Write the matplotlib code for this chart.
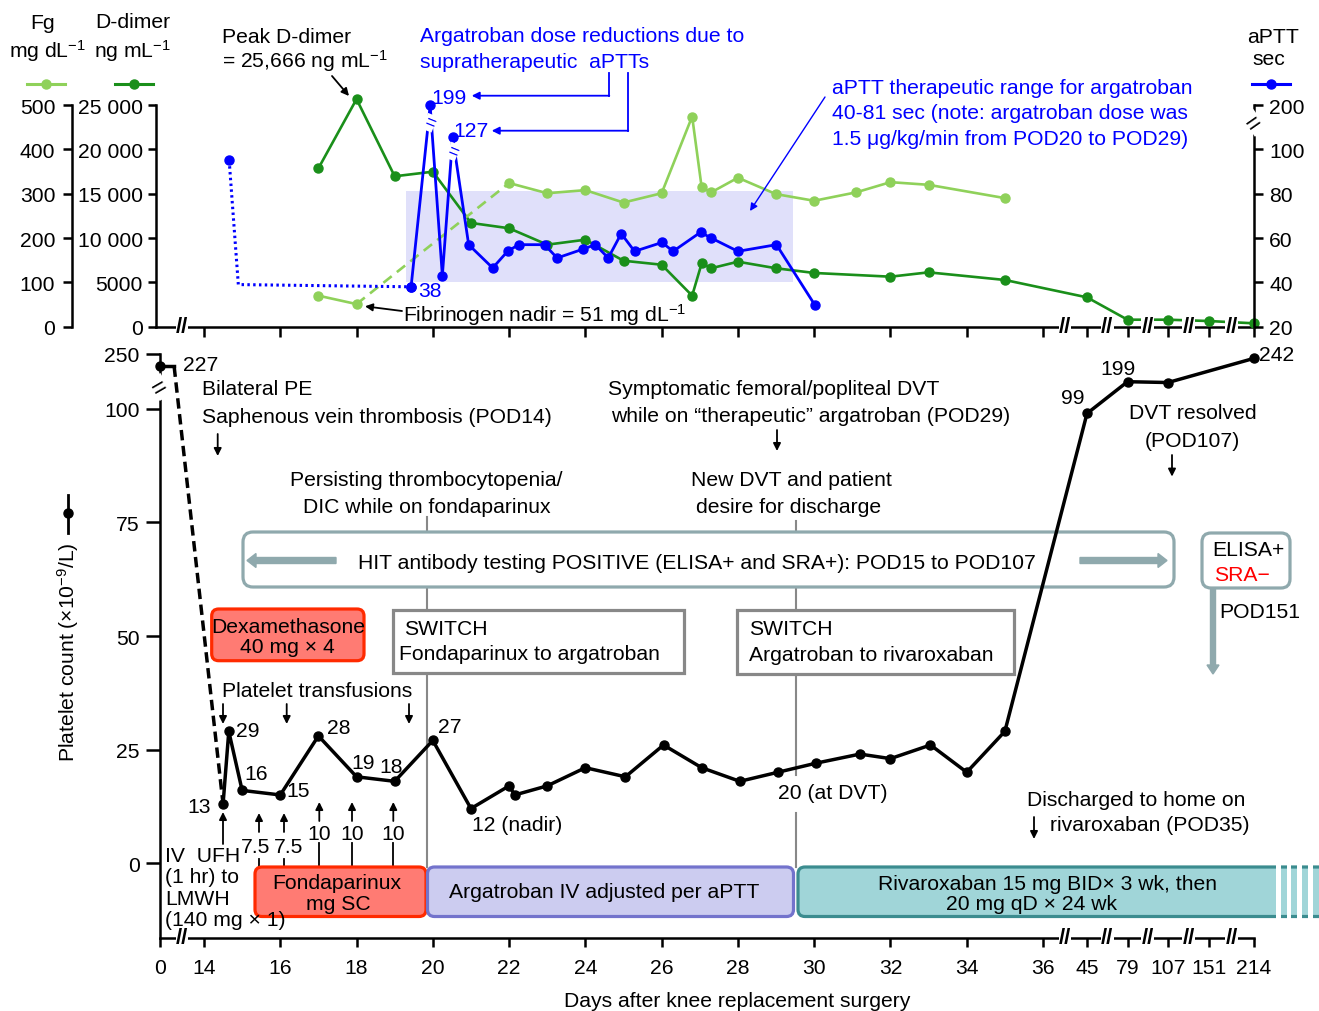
import numpy as np
import matplotlib
matplotlib.use("Agg")
import matplotlib.pyplot as plt
from matplotlib.transforms import Affine2D, blended_transform_factory
from matplotlib.patches import FancyBboxPatch, Rectangle, FancyArrow, FancyArrowPatch
from matplotlib.lines import Line2D

plt.rcParams["font.family"] = ["Liberation Sans", "DejaVu Sans"]
plt.rcParams["font.size"] = 15.2
plt.rcParams["mathtext.fontset"] = "custom"
plt.rcParams["mathtext.rm"] = "Liberation Sans"
plt.rcParams["mathtext.default"] = "regular"

# -------------------------------
# DATA
# -------------------------------
DAY_TICKS = [0, 14, 16, 18, 20, 22, 24, 26, 28, 30, 32, 34, 36, 45, 79, 107, 151, 214]

# platelets (x10^9/L)
PLT_PRE_DAY = [0, 4.5]
PLT_PRE_VAL = [227, 227]
PLT_DAY = [14.5, 14.65, 15.0, 16.0, 17.0, 18.0, 19.0, 20.0, 21.0, 22.0, 22.15, 23.0, 24.0,
           25.05, 26.05, 27.05, 28.05, 29.05, 30.05, 31.2, 32.0, 33.05, 34.0, 35.0,
           45, 79, 107, 214]
PLT_VAL = [13, 29, 16, 15, 28, 19, 18, 27, 12, 17, 15, 17, 21,
           19, 26, 21, 18, 20, 22, 24, 23, 26, 20, 29,
           99, 199, 196, 242]

# fibrinogen (mg/dL) - no values between day 18 and day 22
FG_DAY = [17, 18, 22, 23, 24, 25, 26, 26.8, 27.05, 27.3, 28, 29, 30, 31.1, 32, 33, 35]
FG_VAL = [70, 51, 324, 301, 308, 280, 301, 474, 314, 303, 336, 299, 284, 303, 326, 320, 290]
FG_GAP = 2

# D-dimer (ng/mL)
DD_DAY = [17, 18, 19, 20, 21, 22, 23, 24, 25, 26, 26.8, 27.05, 27.3, 28, 29, 30,
          32, 33, 35, 45, 79, 107, 151, 214]
DD_VAL = [17860, 25666, 16960, 17480, 11700, 11100, 9250, 9810, 7440, 6990, 3500, 7150,
          6590, 7330, 6590, 6060, 5640, 6130, 5270, 3310, 790, 790, 640, 380]

# aPTT (sec)
APTT_LINK_DAY = [14.66, 14.9, 19.43]
APTT_LINK_VAL = [95, 39, 38]
APTT_DAY = [14.66, 19.43, 19.93, 20.25, 20.52, 20.94, 21.57, 21.96, 22.25, 22.93, 23.26,
            23.94, 24.26, 24.6, 24.94, 25.29, 26.01, 26.3, 27.02, 27.3, 28.0, 29.01, 30.01]
APTT_VAL = [95, 38, 199, 43, 127, 57, 46.5, 54, 57, 57, 51, 55, 57, 51, 62, 54, 58, 54,
            62.6, 60, 54, 57, 30]
APTT_RANGE = [40, 81]
ARG_DAYS = [19.3, 29.45]

# colours
LG = "#8fd15a"
DG = "#1a8f1a"
BL = "#0000ff"
SHADE = "#e0e0fa"
RED_F, RED_E = "#ff7b73", "#ff2a00"
TGRAY = "#8fa9ad"
RIV_F, RIV_E = "#a0d5d8", "#3b8c8f"
ARG_F, ARG_E = "#ccccf0", "#7373cc"
BOXG = "#888888"

# -------------------------------
# BROKEN SCALES
# -------------------------------
X_DAY = [-10, 0, 14, 36, 45, 79, 107, 151, 214, 300]
X_POS = [128.6, 160, 204, 1043, 1087, 1127.5, 1168, 1209, 1254, 1300]
AP_RAW = [0, 20, 100, 200, 400]
AP_POS = [-100, 0, 400, 500, 700]
PL_RAW = [-100, 100, 199, 250, 400]
PL_POS = [-100, 100, 106, 112.1, 130]


def x_fwd(d):
    return np.interp(d, X_DAY, X_POS)


def x_inv(p):
    return np.interp(p, X_POS, X_DAY)


def ap_fwd(v):
    return np.interp(v, AP_RAW, AP_POS)


def ap_inv(p):
    return np.interp(p, AP_POS, AP_RAW)


def pl_fwd(v):
    return np.interp(v, PL_RAW, PL_POS)


def pl_inv(p):
    return np.interp(p, PL_POS, PL_RAW)


W, H = 1319, 1012
fig = plt.figure(figsize=(W / 100, H / 100), dpi=100)
# pixel coordinates measured from the top-left corner
PX = Affine2D().scale(1 / W, -1 / H).translate(0, 1) + fig.transFigure


def frame(l, t, r, b):
    return [l / W, 1 - b / H, (r - l) / W, (b - t) / H]


def T(x, y, s, ha="left", color="black", **kw):
    fig.text(x, y, s, transform=PX, ha=ha, va="baseline", color=color, **kw)


def arrow(x0, y0, x1, y1, color="black", lw=1.3, ms=11):
    fig.add_artist(FancyArrowPatch((x0, y0), (x1, y1), transform=PX, arrowstyle="-|>",
                                   mutation_scale=ms, color=color, lw=lw,
                                   shrinkA=0, shrinkB=0))


def vline(ax, x, y0, y1, color=BOXG, lw=1.5):
    ax.add_artist(Line2D([x, x], [y0, y1], transform=PX, color=color, lw=lw,
                         clip_on=False, zorder=1))


def box(ax, l, t, r, b, fc, ec, lw=2.2, rs=8, square=False):
    style = "square,pad=0" if square else f"round,pad=0,rounding_size={rs}"
    ax.add_artist(FancyBboxPatch((l, t), r - l, b - t, boxstyle=style, fc=fc, ec=ec,
                                 lw=lw, transform=PX, clip_on=False, zorder=1))


def xbreak(ax, day):
    ax.text(day, 0, "//", transform=blended_transform_factory(ax.transData, ax.transAxes),
            ha="center", va="center", fontsize=16, fontweight="bold", clip_on=False,
            zorder=6, bbox=dict(fc="white", ec="none", pad=0.2))


# -------------------------------
# TOP PANEL: Fg, D-dimer, aPTT
# -------------------------------
DD_TOP = 25000 * (327.7 - 95) / (327.7 - 106)
ax_dd = fig.add_axes(frame(156, 95, 1254, 327.7))
ax_dd.set_xscale("function", functions=(x_fwd, x_inv))
ax_dd.set_xlim(x_inv(156), 214)
ax_dd.set_ylim(0, DD_TOP)
ax_fg = ax_dd.twinx()
ax_ap = ax_dd.twinx()
ax_fg.set_ylim(0, DD_TOP / 50)
ax_ap.set_yscale("function", functions=(ap_fwd, ap_inv))
ax_ap.set_ylim(20, ap_inv(DD_TOP / 50))

for a in (ax_dd, ax_fg, ax_ap):
    for s in a.spines.values():
        s.set_visible(False)
        s.set_linewidth(1.8)

ax_dd.spines["left"].set_visible(True)
ax_dd.spines["bottom"].set_visible(True)
ax_dd.spines["left"].set_bounds(0, 25000)
ax_dd.set_yticks([0, 5000, 10000, 15000, 20000, 25000],
                 labels=["0", "5000", "10 000", "15 000", "20 000", "25 000"])
ax_dd.tick_params(axis="y", length=6, width=1.8, pad=3.5)
ax_dd.set_xticks(DAY_TICKS[1:])
ax_dd.tick_params(axis="x", length=7.2, width=1.8, labelbottom=False)

ax_fg.spines["left"].set_visible(True)
ax_fg.spines["left"].set_position(("outward", 84 * 0.72))
ax_fg.spines["left"].set_bounds(0, 500)
ax_fg.yaxis.set_ticks_position("left")
ax_fg.set_yticks([0, 100, 200, 300, 400, 500])
ax_fg.tick_params(axis="y", length=6.5, width=1.8, pad=5.5)

ax_ap.spines["right"].set_visible(True)
ax_ap.spines["right"].set_bounds(20, 200)
ax_ap.set_yticks([20, 40, 60, 80, 100, 200])
ax_ap.tick_params(axis="y", length=6.5, width=1.8, pad=4.5)

# therapeutic aPTT range during argatroban
ax_dd.add_artist(Rectangle((ARG_DAYS[0], APTT_RANGE[0]), ARG_DAYS[1] - ARG_DAYS[0],
                           APTT_RANGE[1] - APTT_RANGE[0], transform=ax_ap.transData,
                           fc=SHADE, ec="none", zorder=0.5))

ax_dd.plot(DD_DAY, DD_VAL, "-o", color=DG, lw=1.9, ms=6.5, clip_on=False, zorder=3)
ax_fg.plot(FG_DAY[:FG_GAP], FG_VAL[:FG_GAP], "-o", color=LG, lw=1.9, ms=6.5, clip_on=False)
ax_fg.plot(FG_DAY[FG_GAP:], FG_VAL[FG_GAP:], "-o", color=LG, lw=1.9, ms=6.5, clip_on=False)
ax_fg.plot(FG_DAY[FG_GAP - 1:FG_GAP + 1], FG_VAL[FG_GAP - 1:FG_GAP + 1], color=LG, lw=1.9,
           ls=(0, (4, 2.5)))
ax_ap.plot(APTT_LINK_DAY, APTT_LINK_VAL, color=BL, lw=2.2, ls=(0, (0.8, 1.1)),
           marker="o", ms=6.5, markevery=[0, 2])
ax_ap.plot(APTT_DAY[1:], APTT_VAL[1:], "-o", color=BL, lw=2.0, ms=6.5, clip_on=False)

# axis breaks on the top panel
for d in [7, 40.5, 62, 93, 129, 182.5]:
    xbreak(ax_dd, d)
ax_ap.text(1, 160, "=", transform=blended_transform_factory(ax_ap.transAxes, ax_ap.transData),
           ha="center", va="center", rotation=35, fontsize=18, clip_on=False, zorder=6,
           bbox=dict(fc="white", ec="none", pad=0))
for d, v in [(19.92, 160), (20.53, 99)]:
    ax_ap.text(d, v, "=", ha="center", va="center", rotation=-22, fontsize=13, color=BL,
               zorder=6, bbox=dict(fc="white", ec="none", pad=0))

# headers and legend keys
T(43, 29, "Fg", ha="center")
T(48, 58, "mg dL$^{-1}$", ha="center")
T(133, 28.5, "D-dimer", ha="center")
T(133, 58, "ng mL$^{-1}$", ha="center")
T(1273, 43, "aPTT", ha="center")
T(1269, 65, "sec", ha="center")
for x0, x1, c in [(27, 65, LG), (115, 153, DG), (1252, 1290, BL)]:
    fig.add_artist(Line2D([x0, x1], [85, 85], transform=PX, color=c, lw=2.2))
    fig.add_artist(Line2D([(x0 + x1) / 2], [85], transform=PX, color=c, marker="o", ms=6.5))

T(221.7, 43, "Peak D-dimer")
T(221.7, 68, "= 25,666 ng mL$^{-1}$")
arrow(332, 77, 349, 97)
T(420, 41.7, "Argatroban dose reductions due to", color=BL)
T(420, 68, "supratherapeutic  aPTTs", color=BL)
T(431.7, 104, "199", color=BL)
T(453.3, 136.7, "127", color=BL)
fig.add_artist(Line2D([609.3, 609.3], [74, 96.7], transform=PX, color=BL, lw=1.3))
fig.add_artist(Line2D([628.3, 628.3], [74, 131.7], transform=PX, color=BL, lw=1.3))
arrow(609.3, 96.7, 471.7, 96.7, color=BL)
arrow(628.3, 131.7, 491.7, 131.7, color=BL)
T(832, 94, "aPTT therapeutic range for argatroban", color=BL)
T(832, 119.3, "40-81 sec (note: argatroban dose was", color=BL)
T(832, 145, "1.5 μg/kg/min from POD20 to POD29)", color=BL)
arrow(825, 98, 750, 212, color=BL, lw=1.0)
T(418, 297, "38", color=BL)
T(402.7, 322, "Fibrinogen nadir = 51 mg dL$^{-1}$")
arrow(402, 312, 365, 307.3)

# -------------------------------
# BOTTOM PANEL: platelets
# -------------------------------
ax_pl = fig.add_axes(frame(160, 355, 1254, 939))
ax_pl.set_xscale("function", functions=(x_fwd, x_inv))
ax_pl.set_yscale("function", functions=(pl_fwd, pl_inv))
ax_pl.set_xlim(0, 214)
ax_pl.set_ylim(-16.5, 250)
for k in ("top", "right"):
    ax_pl.spines[k].set_visible(False)
for k in ("left", "bottom"):
    ax_pl.spines[k].set_linewidth(1.8)
ax_pl.set_xticks(DAY_TICKS, labels=[str(d) for d in DAY_TICKS])
ax_pl.set_yticks([0, 25, 50, 75, 100, 250])
ax_pl.tick_params(axis="x", length=6.5, width=1.8, pad=8)
ax_pl.tick_params(axis="y", length=10, width=1.8, pad=4.5)

ax_pl.plot(PLT_PRE_DAY, PLT_PRE_VAL, "-o", color="black", lw=2.5, ms=6.5, markevery=[0],
           clip_on=False, zorder=3)
ax_pl.plot([PLT_PRE_DAY[-1], PLT_DAY[0]], [PLT_PRE_VAL[-1], PLT_VAL[0]], color="black",
           lw=2.5, ls=(0, (3, 1.6)), zorder=3)
ax_pl.plot(PLT_DAY, PLT_VAL, "-o", color="black", lw=2.5, ms=6.5, clip_on=False, zorder=3)

for d in [7, 40.5, 62, 93, 129, 182.5]:
    xbreak(ax_pl, d)
ax_pl.text(0, 180, "=", transform=blended_transform_factory(ax_pl.transAxes, ax_pl.transData),
           ha="center", va="center", rotation=30, fontsize=18, clip_on=False, zorder=6,
           bbox=dict(fc="white", ec="none", pad=0))

# event annotations
T(182.7, 370.7, "227")
T(201.7, 395, "Bilateral PE")
T(201.7, 423, "Saphenous vein thrombosis (POD14)")
arrow(217.7, 435, 217.7, 457)
T(608, 395.4, "Symptomatic femoral/popliteal DVT")
T(610.7, 422, "while on \u201ctherapeutic\u201d argatroban (POD29)")
arrow(777, 431, 777, 452)
T(1193, 419.5, "DVT resolved", ha="center")
T(1192, 447, "(POD107)", ha="center")
arrow(1172, 456, 1172, 477.6)
T(1084.7, 403.8, "99", ha="right")
T(1100, 375, "199")
T(1259, 360.8, "242")
T(426.5, 485.7, "Persisting thrombocytopenia/", ha="center")
T(427, 512.7, "DIC while on fondaparinux", ha="center")
T(791, 486, "New DVT and patient", ha="center")
T(788.5, 512.8, "desire for discharge", ha="center")
for y0, y1 in [(518, 533), (588, 611), (674, 868)]:
    vline(ax_pl, 426.7, y0, y1)
for y0, y1 in [(522, 533), (588, 611), (675, 776), (814, 868)]:
    vline(ax_pl, 795.6, y0, y1)

box(ax_pl, 243, 533, 1174, 588, "white", TGRAY, lw=2.3, rs=10)
T(358, 569, "HIT antibody testing POSITIVE (ELISA+ and SRA+): POD15 to POD107")
for x0, x1 in [(336, 247), (1080, 1167)]:
    fig.add_artist(FancyArrow(x0, 561.5, x1 - x0, 0, width=6, head_width=14, head_length=9,
                              length_includes_head=True, color=TGRAY, transform=PX))
box(ax_pl, 1202, 534, 1290, 589, "white", TGRAY, lw=2.3, rs=9)
T(1212, 556.4, "ELISA+")
T(1214.5, 581, "SRA\u2212", color="red")
fig.add_artist(FancyArrow(1213, 590, 0, 85, width=5, head_width=12, head_length=9,
                          length_includes_head=True, color=TGRAY, transform=PX))
T(1219, 618.5, "POD151")

box(ax_pl, 211.7, 610, 364, 661.7, RED_F, RED_E, lw=2.3, rs=7)
T(288.7, 632.7, "Dexamethasone", ha="center")
T(287.5, 653, "40 mg \u00d7 4", ha="center")
box(ax_pl, 392.7, 611, 684, 674, "white", BOXG, lw=2.3, square=True)
T(404, 635, "SWITCH")
T(399, 660, "Fondaparinux to argatroban")
box(ax_pl, 737, 611, 1014, 675, "white", BOXG, lw=2.3, square=True)
T(749, 635, "SWITCH")
T(749, 661, "Argatroban to rivaroxaban")

T(221.7, 697, "Platelet transfusions")
for x in (223, 286.7, 409):
    arrow(x, 705, x, 725)

T(210.7, 813, "13", ha="right")
T(235.7, 736.7, "29")
T(244, 780, "16")
T(286.7, 796.7, "15")
T(327, 734, "28")
T(351.7, 769, "19")
T(379, 773, "18")
T(438, 733, "27")
T(471.7, 830.7, "12 (nadir)")
T(778, 799, "20 (at DVT)")

# doses along the fondaparinux course
arrow(223, 845, 223, 813)
for x, c in [(259, 255.8), (284, 289)]:
    arrow(x, 833, x, 814)
    T(c, 853.3, "7.5", ha="center")
    vline(ax_pl, x, 860, 868, color="black", lw=1.3)
for x in (319.3, 352, 393.3):
    arrow(x, 822, x, 803)
    T(x, 840, "10", ha="center")
    vline(ax_pl, x, 844, 868, color="black", lw=1.3)
T(165, 861.7, "IV  UFH")
T(165, 883, "(1 hr) to")
T(165, 905, "LMWH")
T(165, 926, "(140 mg \u00d7 1)")

# treatment bars
box(ax_pl, 255, 868, 426, 917.5, RED_F, RED_E, lw=2.3, rs=7)
T(336.7, 889, "Fondaparinux", ha="center")
T(338, 910, "mg SC", ha="center")
box(ax_pl, 427.5, 868, 793.5, 917.5, ARG_F, ARG_E, lw=2.3, rs=7)
T(449.3, 898.3, "Argatroban IV adjusted per aPTT")
box(ax_pl, 798, 868, 1345, 917.5, RIV_F, RIV_E, lw=2.3, rs=7)
for x in (1276, 1286.5, 1297, 1308):
    ax_pl.add_artist(Rectangle((x, 864), 4.5, 58, transform=PX, fc="white", ec="none",
                               clip_on=False, zorder=1.5))
T(1047, 890, "Rivaroxaban 15 mg BID\u00d7 3 wk, then", ha="center")
T(1032, 910, "20 mg qD \u00d7 24 wk", ha="center")
T(1027, 806, "Discharged to home on")
T(1050, 831, "rivaroxaban (POD35)")
arrow(1034, 818, 1034, 840)

# axis titles
fig.text(68, 652, "Platelet count (\u00d710$^{-9}$/L)", transform=PX, rotation=90,
         ha="center", va="center")
fig.add_artist(Line2D([68, 68], [496, 534], transform=PX, color="black", lw=2))
fig.add_artist(Line2D([68], [514], transform=PX, color="black", marker="o", ms=6.5))
T(737, 1006.7, "Days after knee replacement surgery", ha="center")

fig.savefig("out.png", dpi=100)
